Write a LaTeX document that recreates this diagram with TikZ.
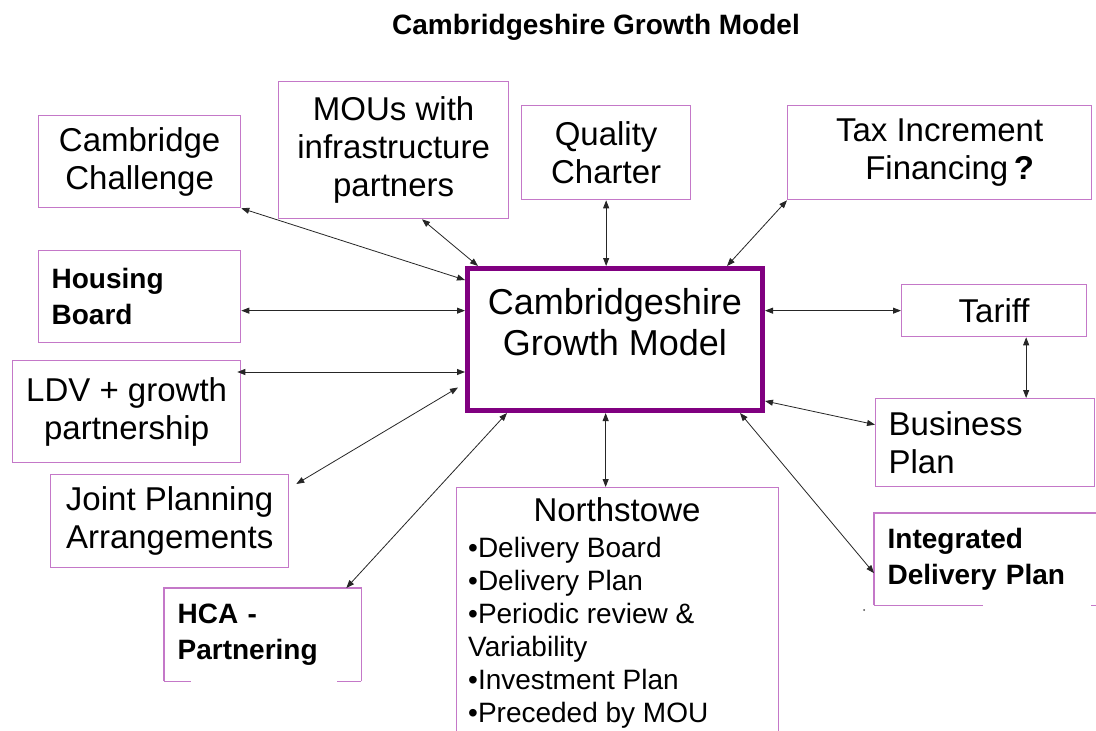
\documentclass[tikz,border=0pt]{standalone}
\usepackage{fontspec}
\setmainfont{Liberation Sans}
\usetikzlibrary{arrows.meta,calc}

\definecolor{bordolilla}{RGB}{196,120,200}
\definecolor{bordoviola}{RGB}{128,0,128}

\begin{document}
\begin{tikzpicture}[
  x=1pt, y=-1pt,
  box/.style={draw=bordolilla, line width=1.3pt, rectangle, inner sep=0pt, anchor=north west,
    font=\fontsize{33}{38}\selectfont, align=center},
  leftbox/.style={box, align=left},
  boldbox/.style={leftbox, font=\fontsize{28}{36}\selectfont\bfseries},
  hub/.style={draw=bordoviola, line width=5pt, rectangle, inner sep=0pt},
  link/.style={draw=black!85, line width=0.8pt, {Triangle[length=8pt,width=6pt]}-{Triangle[length=8pt,width=6pt]}},
  edge/.style={draw=bordolilla, line width=1.3pt}
]

\clip (0,0) rectangle (1096,731);
\fill[white] (0,0) rectangle (1096,731);

%--------------------------------------------------------------
% Titolo
%--------------------------------------------------------------
\node[font=\fontsize{28}{32}\selectfont\bfseries] (title) at (596,27) {Cambridgeshire Growth Model};

%--------------------------------------------------------------
% Riquadro centrale
%--------------------------------------------------------------
\node[hub, minimum width=295pt, minimum height=142pt] (cgm) at (615,339.5) {};
\node[font=\fontsize{36}{41}\selectfont, align=center] (cgm-t) at (615,322) {Cambridgeshire\\Growth Model};

%--------------------------------------------------------------
% Riquadri in alto
%--------------------------------------------------------------
\node[box, minimum width=202pt, minimum height=92pt] (cc) at (38,115) {Cambridge\\Challenge};
\node[box, minimum width=230pt, minimum height=137pt] (mou) at (278,81) {MOUs with\\infrastructure\\partners};
\node[box, minimum width=169pt, minimum height=94pt] (qc) at (521,105) {Quality\\Charter};
\node[box, minimum width=304pt, minimum height=94pt] (tif) at (787,105) {Tax Increment\\\hspace*{20pt}Financing\,{\bfseries ?}};

%--------------------------------------------------------------
% Riquadri a sinistra
%--------------------------------------------------------------
\node[boldbox, text width=176pt, minimum width=202pt, minimum height=92pt] (hb) at (38,250) {Housing\\Board};
\node[box, minimum width=228pt, minimum height=102pt] (ldv) at (12,360) {LDV + growth\\partnership};
\node[box, minimum width=238pt, minimum height=93pt] (jpa) at (50,474) {Joint Planning\\Arrangements};
% HCA: bordo inferiore interrotto
\node[boldbox, draw=none, text width=170pt, minimum width=196pt, minimum height=92pt] (hca) at (164,588) {HCA -\\Partnering};
\draw[edge] (hca.south west) -- (hca.north west) -- (hca.north east) -- (hca.south east);
\draw[edge] (hca.south west) -- +(27,0);
\draw[edge] (hca.south east) -- +(-24,0);

%--------------------------------------------------------------
% Riquadri a destra
%--------------------------------------------------------------
\node[box, minimum width=185pt, minimum height=52pt] (tar) at (901,284) {Tariff};
\node[leftbox, text width=193pt, minimum width=219pt, minimum height=88pt] (bp) at (875,398) {Business\\Plan};
% Integrated Delivery Plan: bordo inferiore interrotto
\node[boldbox, draw=none, text width=198pt, minimum width=224pt, minimum height=91pt] (idp) at (874,513) {Integrated\\Delivery Plan};
\draw[edge] (idp.south west) -- (idp.north west) -- (idp.north east);
\draw[edge] (idp.south west) -- +(109,0);
\draw[edge] (idp.south east) -- +(-8,0);
\fill[black!70] (864,610) circle (1pt);

%--------------------------------------------------------------
% Northstowe
%--------------------------------------------------------------
\node[box, minimum width=322pt, minimum height=280pt] (ns) at (456,487) {};
\node[font=\fontsize{33}{38}\selectfont, anchor=base] (ns-t) at (617,521) {Northstowe};
\node[anchor=north west, align=left, inner sep=0pt, font=\fontsize{28}{33}\selectfont] (ns-l) at (468,537)
  {•Delivery Board\\•Delivery Plan\\•Periodic review \&\\Variability\\•Investment Plan\\•Preceded by MOU};

%--------------------------------------------------------------
% Collegamenti
%--------------------------------------------------------------
\coordinate (hb-a) at ($(hb.east)+(0,14)$);
\coordinate (ldv-a) at ($(ldv.north east)+(-4,12)$);
\coordinate (tar-a) at ($(tar.south)+(32,0)$);
\coordinate (ns-a) at ($(ns.north)+(-12,0)$);

\draw[link] (cc.south east) -- ($(cgm.north west)+(0,14)$);
\draw[link] ($(mou.south west)+(144,0)$) -- ($(cgm.north west)+(13,0)$);
\draw[link] (qc.south) -- (qc.south |- cgm.north);
\draw[link] (tif.south west) -- ($(cgm.north east)+(-38,0)$);
\draw[link] (hb-a) -- (hb-a -| cgm.west);
\draw[link] (tar.west) -- (tar.west -| cgm.east);
\draw[link] (tar-a) -- (tar-a |- bp.north);
\draw[link] (ldv-a) -- (ldv-a -| cgm.west);
\draw[link] ($(jpa.north east)+(7,10)$) -- ($(cgm.west)+(-7,48)$);
\draw[link] ($(hca.north east)+(-15,0)$) -- ($(cgm.south west)+(42,0)$);
\draw[link] (ns-a) -- (ns-a |- cgm.south);
\draw[link] ($(bp.west)+(0,-18)$) -- ($(cgm.south east)+(0,-12)$);
\draw[link] ($(idp.west)+(0,14)$) -- ($(cgm.south east)+(-25,0)$);

\end{tikzpicture}
\end{document}
